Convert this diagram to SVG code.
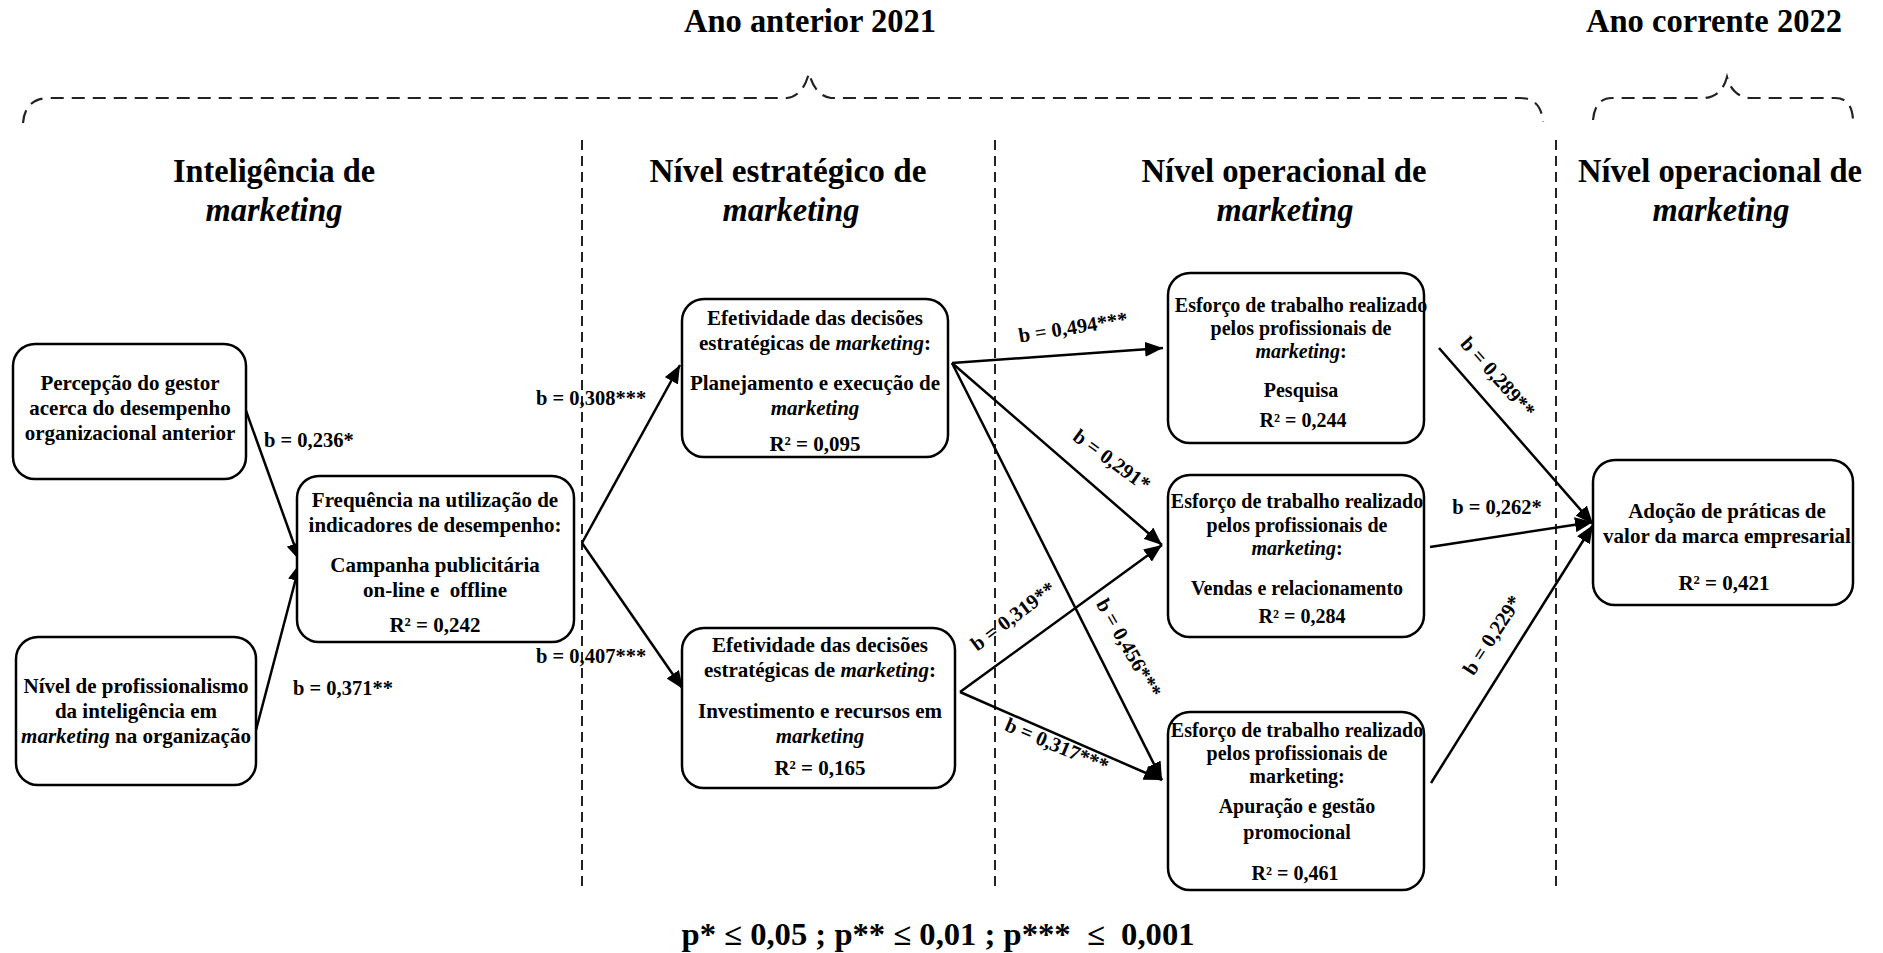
<svg xmlns="http://www.w3.org/2000/svg" width="1883" height="953" viewBox="0 0 1883 953">
<style>
text { font-family: "Liberation Serif", "Times New Roman", serif; font-weight: bold; fill: #000; }
.n { font-size: 21px; text-anchor: middle; white-space: pre; }
.e { font-size: 20px; text-anchor: middle; }
.lb { font-size: 20.5px; }
.lc { font-size: 20.5px; text-anchor: middle; }
.h { font-size: 34px; text-anchor: middle; }
.yr { font-size: 33px; text-anchor: middle; }
.i { font-style: italic; }
.box { fill: #fff; stroke: #000; stroke-width: 2.5; }
.con { stroke: #000; stroke-width: 2.5; fill: none; marker-end: url(#ah); }
.sep { stroke: #222; stroke-width: 2; stroke-dasharray: 10 6; fill: none; }
.brace { stroke: #222; stroke-width: 2.2; stroke-dasharray: 13 8; fill: none; }
</style>
<defs>
<marker id="ah" markerUnits="userSpaceOnUse" markerWidth="19" markerHeight="15" refX="18" refY="7.5" orient="auto">
<path d="M0,0 L18,7.5 L0,15 z" fill="#000"/>
</marker>
</defs>
<rect width="1883" height="953" fill="#fff"/>

<g id="headers">
<text class="yr" x="810" y="32" textLength="252" lengthAdjust="spacingAndGlyphs">Ano anterior 2021</text>
<text class="yr" x="1714" y="32" textLength="256" lengthAdjust="spacingAndGlyphs">Ano corrente 2022</text>
<path class="brace" d="M23,123 Q25,98 50,98 L787,98 Q803,96 809,73 Q815,96 831,98 L1520,98 Q1541,98 1543,122"/>
<path class="brace" d="M1593,120 Q1595,98 1612,98 L1705,98 Q1722,96 1727,77 Q1732,96 1749,98 L1835,98 Q1852,98 1853,120"/>
<text class="h" x="274" y="182" textLength="202" lengthAdjust="spacingAndGlyphs">Inteligência de</text>
<text class="h i" x="274" y="221" textLength="137" lengthAdjust="spacingAndGlyphs">marketing</text>
<text class="h" x="788" y="182" textLength="277" lengthAdjust="spacingAndGlyphs">Nível estratégico de</text>
<text class="h i" x="791" y="221" textLength="137" lengthAdjust="spacingAndGlyphs">marketing</text>
<text class="h" x="1284" y="182" textLength="285" lengthAdjust="spacingAndGlyphs">Nível operacional de</text>
<text class="h i" x="1285" y="221" textLength="137" lengthAdjust="spacingAndGlyphs">marketing</text>
<text class="h" x="1720" y="182" textLength="284" lengthAdjust="spacingAndGlyphs">Nível operacional de</text>
<text class="h i" x="1721" y="221" textLength="137" lengthAdjust="spacingAndGlyphs">marketing</text>
</g>

<g id="separators">
<line class="sep" x1="582" y1="140" x2="582" y2="890"/>
<line class="sep" x1="995" y1="140" x2="995" y2="890"/>
<line class="sep" x1="1556" y1="140" x2="1556" y2="890"/>
</g>

<g id="connectors">
<line class="con" x1="245" y1="408" x2="300" y2="561"/>
<line class="con" x1="256" y1="730" x2="300" y2="563"/>
<line class="con" x1="582" y1="543" x2="680" y2="365"/>
<line class="con" x1="582" y1="543" x2="683" y2="689"/>
<line class="con" x1="952" y1="363" x2="1163" y2="348"/>
<line class="con" x1="952" y1="363" x2="1162" y2="545"/>
<line class="con" x1="952" y1="363" x2="1162" y2="780"/>
<line class="con" x1="960" y1="692" x2="1162" y2="545"/>
<line class="con" x1="960" y1="692" x2="1162" y2="780"/>
<line class="con" x1="1439" y1="348" x2="1593" y2="524"/>
<line class="con" x1="1430" y1="547" x2="1593" y2="522"/>
<line class="con" x1="1431" y1="783" x2="1593" y2="525"/>
<text class="lb" x="264" y="447">b = 0,236*</text>
<text class="lb" x="293" y="695">b = 0,371**</text>
<text class="lb" x="536" y="405">b = 0,308***</text>
<text class="lb" x="536" y="663">b = 0,407***</text>
<text class="lc" transform="translate(1073,327) rotate(-9)" y="7">b = 0,494***</text>
<text class="lc" transform="translate(1112,460) rotate(36)" y="7">b = 0,291*</text>
<text class="lc" transform="translate(1129,648) rotate(60)" y="7">b = 0,456***</text>
<text class="lc" transform="translate(1013,616) rotate(-37)" y="7">b = 0,319**</text>
<text class="lc" transform="translate(1057,745) rotate(23)" y="7">b = 0,317***</text>
<text class="lc" transform="translate(1498,377) rotate(48)" y="7">b = 0,289**</text>
<text class="lc" x="1497" y="514">b = 0,262*</text>
<text class="lc" transform="translate(1492,635) rotate(-57)" y="7">b = 0,229*</text>
</g>

<g id="n-percepcao">
<rect class="box" x="13" y="344" width="233" height="135" rx="22"/>
<text class="n" x="130" y="390">Percepção do gestor</text>
<text class="n" x="130" y="415">acerca do desempenho</text>
<text class="n" x="130" y="440">organizacional anterior</text>
</g>

<g id="n-profissionalismo">
<rect class="box" x="16" y="637" width="240" height="148" rx="22"/>
<text class="n" x="136" y="693">Nível de profissionalismo</text>
<text class="n" x="136" y="718">da inteligência em</text>
<text class="n" x="136" y="743"><tspan class="i">marketing</tspan> na organização</text>
</g>

<g id="n-frequencia">
<rect class="box" x="297" y="476" width="277" height="166" rx="22"/>
<text class="n" x="435" y="507">Frequência na utilização de</text>
<text class="n" x="435" y="532">indicadores de desempenho:</text>
<text class="n" x="435" y="572">Campanha publicitária</text>
<text class="n" x="435" y="597">on-line e  offline</text>
<text class="n" x="435" y="632">R² = 0,242</text>
</g>

<g id="n-planejamento">
<rect class="box" x="682" y="299" width="266" height="158" rx="22"/>
<text class="n" x="815" y="325">Efetividade das decisões</text>
<text class="n" x="815" y="350">estratégicas de <tspan class="i">marketing</tspan>:</text>
<text class="n" x="815" y="390">Planejamento e execução de</text>
<text class="n i" x="815" y="415">marketing</text>
<text class="n" x="815" y="451">R² = 0,095</text>
</g>

<g id="n-investimento">
<rect class="box" x="682" y="628" width="273" height="160" rx="22"/>
<text class="n" x="820" y="652">Efetividade das decisões</text>
<text class="n" x="820" y="677">estratégicas de <tspan class="i">marketing</tspan>:</text>
<text class="n" x="820" y="718">Investimento e recursos em</text>
<text class="n i" x="820" y="743">marketing</text>
<text class="n" x="820" y="775">R² = 0,165</text>
</g>

<g id="n-pesquisa">
<rect class="box" x="1168" y="273" width="256" height="170" rx="22"/>
<text class="e" x="1301" y="312">Esforço de trabalho realizado</text>
<text class="e" x="1301" y="335">pelos profissionais de</text>
<text class="e" x="1301" y="358"><tspan class="i">marketing</tspan>:</text>
<text class="e" x="1301" y="397">Pesquisa</text>
<text class="e" x="1303" y="427">R² = 0,244</text>
</g>

<g id="n-vendas">
<rect class="box" x="1168" y="475" width="256" height="162" rx="22"/>
<text class="e" x="1297" y="508">Esforço de trabalho realizado</text>
<text class="e" x="1297" y="532">pelos profissionais de</text>
<text class="e" x="1297" y="555"><tspan class="i">marketing</tspan>:</text>
<text class="e" x="1297" y="595">Vendas e relacionamento</text>
<text class="e" x="1302" y="623">R² = 0,284</text>
</g>

<g id="n-apuracao">
<rect class="box" x="1168" y="712" width="256" height="178" rx="22"/>
<text class="e" x="1297" y="737">Esforço de trabalho realizado</text>
<text class="e" x="1297" y="760">pelos profissionais de</text>
<text class="e" x="1297" y="783">marketing:</text>
<text class="e" x="1297" y="813">Apuração e gestão</text>
<text class="e" x="1297" y="839">promocional</text>
<text class="e" x="1295" y="880">R² = 0,461</text>
</g>

<g id="n-adocao">
<rect class="box" x="1593" y="460" width="260" height="145" rx="22"/>
<text class="n" x="1727" y="518">Adoção de práticas de</text>
<text class="n" x="1727" y="543">valor da marca empresarial</text>
<text class="n" x="1724" y="590">R² = 0,421</text>
</g>

<g id="legend">
<text x="938" y="945" style="font-size:31px;text-anchor:middle;white-space:pre" textLength="513" lengthAdjust="spacingAndGlyphs">p* ≤ 0,05 ; p** ≤ 0,01 ; p***  ≤  0,001</text>
</g>
</svg>
